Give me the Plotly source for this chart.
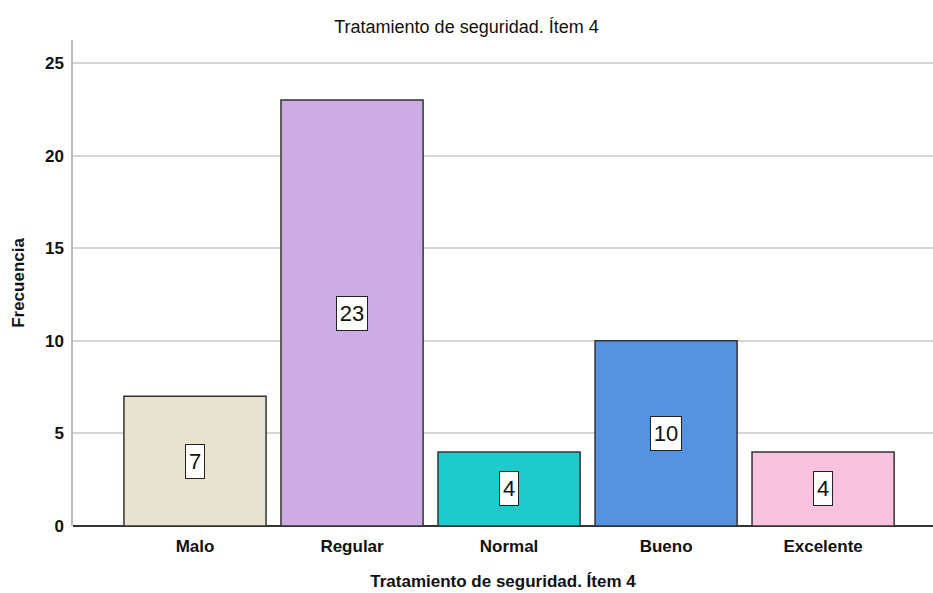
import plotly.graph_objects as go

categorias = ["Malo", "Regular", "Normal", "Bueno", "Excelente"]
frecuencias = [7, 23, 4, 10, 4]
colores = ["#E8E3CF", "#CDABE3", "#1CCCCC", "#5592E0", "#F9C3E0"]
y_ticks = [0, 5, 10, 15, 20, 25]

titulo = "Tratamiento de seguridad. Ítem 4"
FONT = "Liberation Sans, Arial, sans-serif"

fig = go.Figure()
fig.add_trace(go.Bar(
    x=list(range(len(categorias))),
    y=frecuencias,
    width=0.905,
    marker=dict(color=colores, line=dict(color="#333333", width=1.5)),
    hoverinfo="skip",
))

# value boxes centred vertically inside each bar
for i, v in enumerate(frecuencias):
    fig.add_annotation(
        x=i, y=v / 2, text=str(v), showarrow=False,
        font=dict(family=FONT, size=22, color="#111111"),
        height=33, width=6 + 12 * len(str(v)),
        bgcolor="white", bordercolor="#222222", borderwidth=1, borderpad=0,
    )

fig.update_layout(
    width=933, height=593,
    margin=dict(l=73, r=0, t=40, b=67),
    paper_bgcolor="white", plot_bgcolor="white",
    showlegend=False,
    title=dict(text=titulo, x=0.5, xanchor="center", y=0.955, yanchor="middle",
               font=dict(family=FONT, size=18, color="#111111")),
    xaxis=dict(
        tickmode="array", tickvals=list(range(len(categorias))), ticktext=categorias,
        range=[-0.777, 4.70], showgrid=False, zeroline=False,
        showline=False, ticks="", ticklabelstandoff=8,
        tickfont=dict(family=FONT, size=17, color="#111111", weight="bold"),
        title=dict(text=titulo, standoff=20,
                   font=dict(family=FONT, size=17, color="#111111", weight="bold")),
    ),
    yaxis=dict(
        range=[0, 26.24], tickvals=y_ticks, showgrid=True, gridcolor="#D4D4D4",
        gridwidth=1.5, zeroline=True, zerolinecolor="#333333", zerolinewidth=1.5,
        showline=True, linecolor="#BBBBBB", linewidth=1.5, ticks="",
        ticklabelstandoff=4,
        tickfont=dict(family=FONT, size=17, color="#111111", weight="bold"),
        title=dict(text="Frecuencia", standoff=16,
                   font=dict(family=FONT, size=17, color="#111111", weight="bold")),
    ),
)

fig.write_html("out.html")
